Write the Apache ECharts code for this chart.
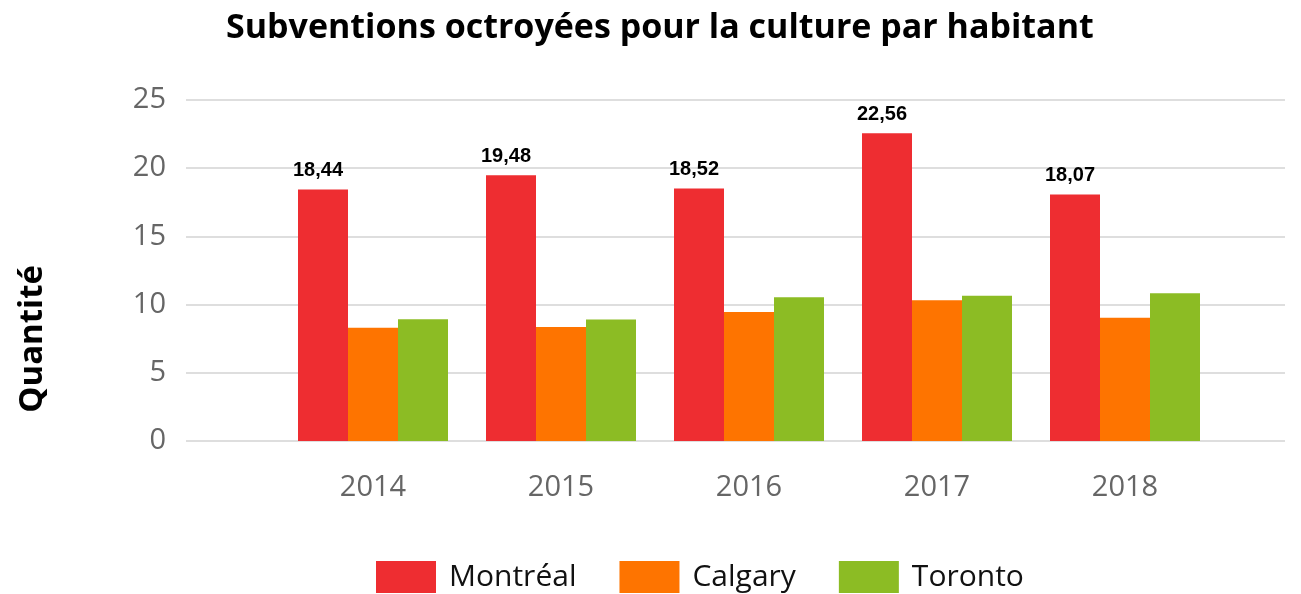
<!DOCTYPE html>
<html>
<head>
<meta charset="utf-8">
<script src="https://cdn.jsdelivr.net/npm/echarts@6/dist/echarts.min.js"></script>
<style>
  html, body { margin: 0; padding: 0; background: #fff; }
  #chart { width: 1301px; height: 594px; }
</style>
</head>
<body>
<div id="chart"></div>
<script>
// data
var years = ['2014', '2015', '2016', '2017', '2018'];
var montreal = [18.44, 19.48, 18.52, 22.56, 18.07];
var calgary = [8.31, 8.35, 9.45, 10.32, 9.03];
var toronto = [8.93, 8.90, 10.54, 10.64, 10.83];
var seriesNames = ['Montréal', 'Calgary', 'Toronto'];
var colorcode = ['#ee2d31', '#fe7400', '#8cbc24'];

var chart = echarts.init(document.getElementById('chart'));

var option = {
  color: colorcode,
  title: {
    text: 'Subventions octroyées pour la culture par habitant',
    left: 221,
    top: 6,
    textStyle: {
      fontFamily: 'Open Sans',
      fontWeight: 'bold',
      fontSize: 34,
      color: '#000'
    }
  },
  legend: {
    data: seriesNames,
    bottom: -4,
    left: 371,
    itemWidth: 60,
    itemHeight: 32,
    itemGap: 43,
    icon: 'rect',
    textStyle: {
      fontFamily: 'Open Sans',
      fontSize: 30,
      color: '#111',
      padding: [0, 0, 0, 8]
    }
  },
  graphic: [{
    type: 'text',
    left: 16,
    top: 265,
    rotation: Math.PI / 2,
    style: {
      text: 'Quantité',
      fontFamily: 'Open Sans',
      fontWeight: 'bold',
      fontSize: 33,
      fill: '#000'
    }
  }],
  grid: [
    { left: 186, right: 16, top: 100, bottom: 153 },
    { left: 279, right: 82, top: 100, bottom: 153 }
  ],
  xAxis: [
    { type: 'category', gridIndex: 0, data: [''], show: false },
    {
      type: 'category',
      gridIndex: 1,
      data: years,
      axisLine: { show: false },
      axisTick: { show: false },
      axisLabel: {
        margin: 32,
        fontFamily: 'Open Sans',
        fontSize: 29,
        color: '#666'
      }
    }
  ],
  yAxis: [
    {
      type: 'value',
      gridIndex: 0,
      min: 0,
      max: 25,
      interval: 5,
      axisLine: { show: false },
      axisTick: { show: false },
      axisLabel: {
        margin: 20,
        fontFamily: 'Open Sans',
        fontSize: 29,
        color: '#666'
      },
      splitLine: { lineStyle: { color: '#dedede', width: 2 } }
    },
    { type: 'value', gridIndex: 1, min: 0, max: 25, interval: 5, show: false }
  ],
  series: [
    {
      name: seriesNames[0],
      type: 'bar',
      xAxisIndex: 1,
      yAxisIndex: 1,
      barWidth: 50,
      barGap: '0%',
      data: montreal,
      label: {
        show: true,
        position: 'top',
        distance: 9,
        offset: [-5, 0],
        fontFamily: 'Liberation Sans',
        fontWeight: 'bold',
        fontSize: 20,
        color: '#000',
        formatter: function (p) { return p.value.toFixed(2).replace('.', ','); }
      }
    },
    {
      name: seriesNames[1],
      type: 'bar',
      xAxisIndex: 1,
      yAxisIndex: 1,
      barWidth: 50,
      barGap: '0%',
      data: calgary
    },
    {
      name: seriesNames[2],
      type: 'bar',
      xAxisIndex: 1,
      yAxisIndex: 1,
      barWidth: 50,
      barGap: '0%',
      data: toronto
    }
  ]
};

chart.setOption(option);
</script>
</body>
</html>
